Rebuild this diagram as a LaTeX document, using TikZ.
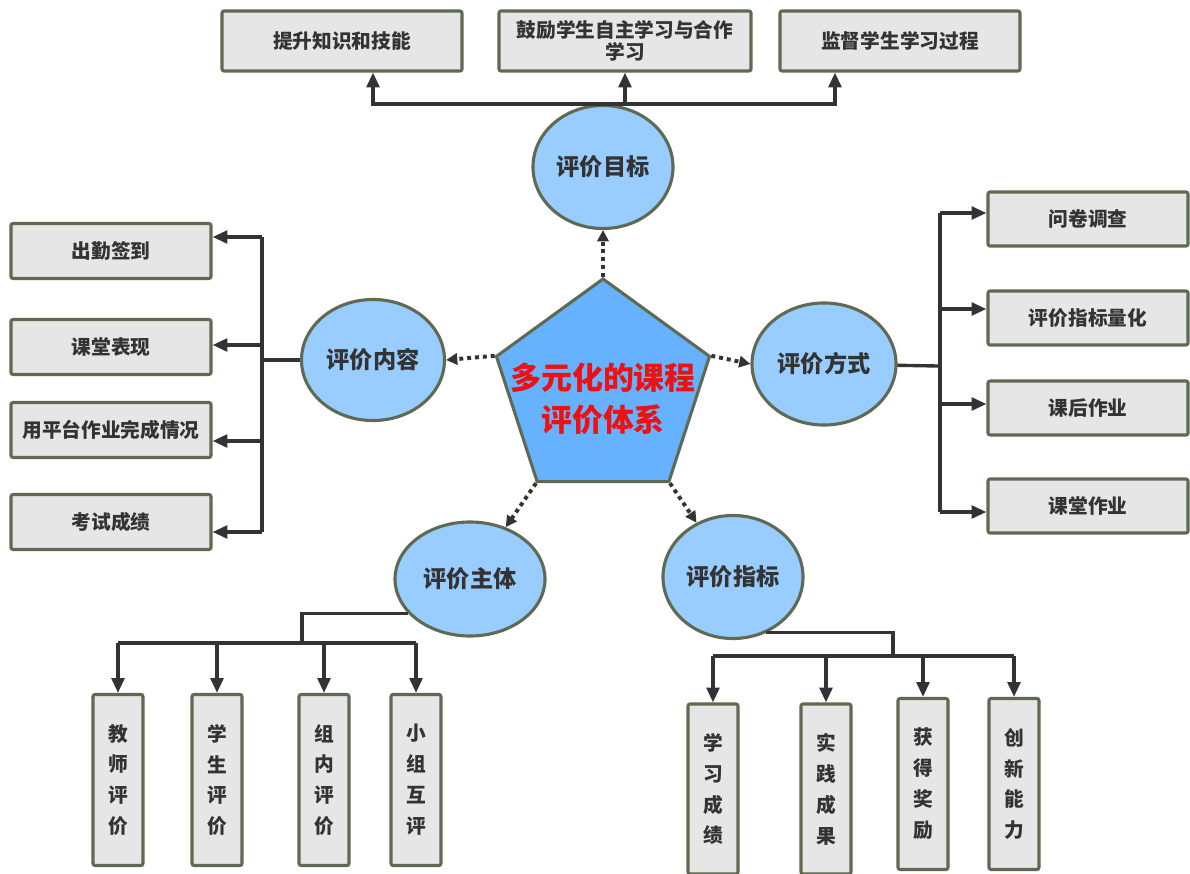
\documentclass[tikz,border=0pt]{standalone}
\usepackage{fontspec}
\setmainfont{Noto Sans CJK SC}
\usetikzlibrary{shapes.geometric,arrows.meta}
\definecolor{edge}{HTML}{5E6A52}
\definecolor{boxfill}{HTML}{E6E6E6}
\definecolor{ellfill}{HTML}{99CCFF}
\definecolor{pentfill}{HTML}{66B2FF}
\definecolor{txt}{HTML}{333333}
\definecolor{ln}{HTML}{333333}
\definecolor{titlered}{HTML}{EE1111}
\begin{document}
\begin{tikzpicture}[x=0.025cm,y=-0.025cm,
 box/.style={draw=edge, fill=boxfill, line width=2.2pt, rounded corners=1.5pt, inner sep=0pt, align=center, text=txt, font=\bfseries\fontsize{14}{16}\selectfont},
 hbox/.style={box, minimum width=5cm, minimum height=1.375cm},
 vbox/.style={box, minimum width=1.25cm, minimum height=4.275cm, font=\bfseries\fontsize{14}{22}\selectfont},
 ell/.style={ellipse, draw=edge, fill=ellfill, line width=2.2pt, inner sep=0pt, text=txt, font=\bfseries\fontsize{16.5}{20}\selectfont},
 conn/.style={draw=ln, line width=2.4pt},
 arr/.style={conn, -{Triangle[length=10.5pt,width=9pt]}},
 dotarr/.style={draw=ln, line width=2.8pt, dash pattern=on 2.8pt off 2.8pt, -{Triangle[length=8pt,width=8pt]}}
]
\useasboundingbox (0,0) rectangle (1190,874);

% top
\node[box, minimum width=6cm, minimum height=1.5cm] (t1) at (342,41) {提升知识和技能};
\node[box, minimum width=6.3cm, minimum height=1.5cm] (t2) at (625,41) {鼓励学生自主学习与合作\\学习};
\node[box, minimum width=6cm, minimum height=1.5cm] (t3) at (900,41) {监督学生学习过程};

% left boxes
\node[hbox] (l1) at (111,251) {出勤签到};
\node[hbox] (l2) at (111,347) {课堂表现};
\node[hbox] (l3) at (111,430) {用平台作业完成情况};
\node[hbox] (l4) at (111,522) {考试成绩};

% right boxes
\node[hbox, minimum height=1.35cm] (r1) at (1088,219) {问卷调查};
\node[hbox, minimum height=1.35cm] (r2) at (1088,318) {评价指标量化};
\node[hbox, minimum height=1.35cm] (r3) at (1088,408) {课后作业};
\node[hbox, minimum height=1.35cm] (r4) at (1088,506) {课堂作业};

% bottom-left boxes
\node[vbox] (b1) at (118,780) {教\\师\\评\\价};
\node[vbox] (b2) at (217,780) {学\\生\\评\\价};
\node[vbox] (b3) at (324,780) {组\\内\\评\\价};
\node[vbox] (b4) at (416,780) {小\\组\\互\\评};

% bottom-right boxes
\node[vbox, minimum height=4.25cm] (c1) at (713,789) {学\\习\\成\\绩};
\node[vbox, minimum height=4.25cm] (c2) at (826,789) {实\\践\\成\\果};
\node[vbox] (c3) at (923,784) {获\\得\\奖\\励};
\node[vbox] (c4) at (1014,784) {创\\新\\能\\力};

% coordinates for branches
\coordinate (la) at (262,237);
\coordinate (lb) at (262,345);
\coordinate (lc) at (262,441);
\coordinate (ld) at (262,532);
\coordinate (lv) at (262,360);
\coordinate (ra) at (940,213);
\coordinate (rb) at (940,309);
\coordinate (rc) at (940,404);
\coordinate (rd) at (940,512);
\coordinate (rv) at (938,366);
\coordinate (bl) at (302,643);
\coordinate (br) at (893,656);

% connectors (drawn under ellipses)
\draw[conn] (lv) -- (373,360);
\draw[conn] (la) -- (ld);
\draw[arr] (la) -- (la -| l1.east);
\draw[arr] (lb) -- (lb -| l2.east);
\draw[arr] (lc) -- (lc -| l3.east);
\draw[arr] (ld) -- (ld -| l4.east);

\draw[conn] (824,364) -- (rv);
\draw[conn] (ra) -- (rd);
\draw[arr] (ra) -- (ra -| r1.west);
\draw[arr] (rb) -- (rb -| r2.west);
\draw[arr] (rc) -- (rc -| r3.west);
\draw[arr] (rd) -- (rd -| r4.west);

% ellipses
\node[ell, minimum width=3.5cm, minimum height=3.075cm] (mubiao) at (603,167) {评价目标};
\node[ell, minimum width=3.575cm, minimum height=3.025cm] (neirong) at (373,360) {评价内容};
\node[ell, minimum width=3.6cm, minimum height=3.05cm] (fangshi) at (824,364) {评价方式};
\node[ell, minimum width=3.75cm, minimum height=2.85cm] (zhuti) at (470,579) {评价主体};
\node[ell, minimum width=3.5cm, minimum height=3.075cm] (zhibiao) at (733,577) {评价指标};

% top connectors
\draw[arr] (mubiao.north) -- (mubiao.north -| t2.south) -- (t2.south);
\draw[arr] (mubiao.north) -| ([xshift=0.775cm]t1.south);
\draw[arr] (mubiao.north) -| ([xshift=-1.625cm]t3.south);

% bottom-left connectors
\draw[conn] (zhuti.209) -| (bl);
\draw[conn] (b1.north |- bl) -- (b4.north |- bl);
\draw[arr] (b1.north |- bl) -- (b1.north);
\draw[arr] (b2.north |- bl) -- (b2.north);
\draw[arr] (b3.north |- bl) -- (b3.north);
\draw[arr] (b4.north |- bl) -- (b4.north);

% bottom-right connectors
\draw[conn] (zhibiao.301) -| (br);
\draw[conn] (c1.north |- br) -- (c4.north |- br);
\draw[arr] (c1.north |- br) -- (c1.north);
\draw[arr] (c2.north |- br) -- (c2.north);
\draw[arr] (c3.north |- br) -- (c3.north);
\draw[arr] (c4.north |- br) -- (c4.north);

% pentagon
\node[regular polygon, regular polygon sides=5, minimum size=5.6cm, draw=edge, fill=pentfill, line width=2.2pt, inner sep=0pt] (pent) at (603,391) {};
\node[text=titlered, align=center, font=\bfseries\fontsize{22}{30}\selectfont] (ptxt) at (603,399) {多元化的课程\\评价体系};

% dotted arrows
\draw[dotarr] (pent.corner 1) -- (mubiao.south);
\draw[dotarr] (pent.corner 2) -- (neirong.east);
\draw[dotarr] (pent.corner 5) -- (fangshi.west);
\draw[dotarr] (pent.corner 3) -- (zhuti);
\draw[dotarr] (pent.corner 4) -- (zhibiao);
\end{tikzpicture}
\end{document}
